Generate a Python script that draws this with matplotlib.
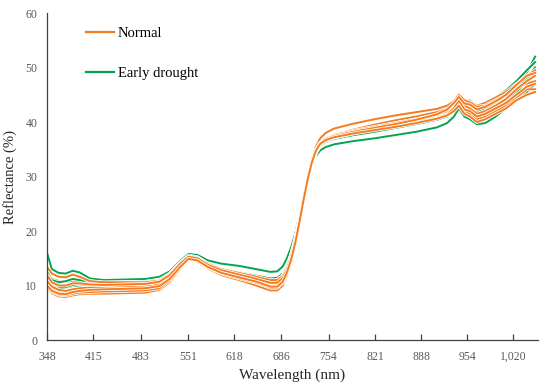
import matplotlib
matplotlib.use("Agg")
import matplotlib.pyplot as plt
import matplotlib.patheffects as pe
from matplotlib.lines import Line2D

# wavelength sampling (nm)
wavelength = [348, 355, 365, 375, 385, 395, 410, 430, 460, 490,
              510, 525, 540, 552, 565, 580, 600, 625, 650, 670,
              680, 688, 694, 700, 706, 712, 718, 724, 730, 736,
              742, 750, 762, 790, 820, 850, 880, 910, 925, 935,
              942, 950, 958, 968, 980, 995, 1010, 1025, 1040, 1052]

# Early drought spectra (%)
drought_1 = [16.0, 13.0, 12.3, 12.2, 12.7, 12.4, 11.3, 11.0, 11.1, 11.2,
             11.6, 12.6, 14.5, 15.8, 15.6, 14.6, 14.0, 13.6, 13.0, 12.5,
             12.6, 13.5, 15.0, 17.0, 19.5, 22.8, 26.5, 29.8, 32.2, 33.8,
             34.8, 35.4, 35.9, 36.5, 37.0, 37.6, 38.2, 39.0, 39.8, 41.0,
             42.5, 41.0, 40.5, 39.6, 39.8, 41.0, 42.5, 44.0, 45.5, 47.0]
drought_2 = [12.5, 11.2, 10.8, 10.7, 10.9, 10.7, 10.4, 10.4, 10.5, 10.6,
             10.9, 12.0, 14.0, 15.3, 15.0, 13.9, 13.0, 12.4, 11.8, 11.3,
             11.4, 12.2, 13.6, 15.6, 18.5, 22.0, 26.0, 29.5, 32.5, 34.6,
             35.8, 36.6, 37.2, 37.9, 38.6, 39.3, 40.1, 41.0, 41.8, 43.0,
             44.8, 43.5, 44.0, 43.0, 43.2, 44.0, 45.2, 47.0, 49.0, 52.0]
drought_3 = [11.0, 10.0, 9.6, 9.6, 9.9, 10.0, 10.1, 10.2, 10.3, 10.4,
             10.7, 11.8, 13.8, 15.1, 14.8, 13.6, 12.5, 11.9, 11.2, 10.5,
             10.6, 11.4, 13.0, 15.2, 18.0, 21.6, 25.6, 29.2, 32.3, 34.4,
             35.6, 36.3, 36.9, 37.6, 38.2, 38.9, 39.6, 40.4, 41.0, 42.5,
             44.0, 42.5, 41.8, 40.2, 40.8, 42.0, 43.5, 45.5, 47.5, 49.5]
drought_4 = [12.0, 11.0, 10.6, 10.8, 11.2, 11.0, 10.6, 10.5, 10.6, 10.7,
             11.0, 12.2, 14.2, 15.5, 15.2, 14.0, 12.9, 12.2, 11.5, 10.9,
             11.0, 11.8, 13.3, 15.4, 18.3, 21.8, 25.8, 29.4, 32.4, 34.5,
             35.7, 36.5, 37.1, 37.9, 38.7, 39.5, 40.3, 41.2, 42.0, 43.3,
             44.2, 43.0, 43.5, 42.8, 43.3, 44.5, 45.8, 47.5, 49.5, 51.0]
drought_5 = [10.5, 9.8, 9.5, 9.7, 10.1, 10.3, 10.4, 10.5, 10.5, 10.5,
             10.8, 12.0, 14.0, 15.2, 14.9, 13.7, 12.6, 11.8, 11.0, 10.2,
             10.2, 11.0, 12.6, 14.8, 17.6, 21.2, 25.3, 29.0, 32.2, 34.4,
             35.7, 36.5, 37.2, 38.0, 38.8, 39.6, 40.4, 41.3, 42.2, 43.5,
             44.5, 43.2, 43.0, 42.0, 42.5, 43.6, 44.8, 46.5, 48.0, 50.0]

# Normal spectra (%)
normal_1 = [13.4, 12.2, 11.6, 11.5, 12.0, 11.6, 10.8, 10.6, 10.6, 10.6,
            10.9, 12.0, 14.0, 15.3, 15.1, 14.0, 13.0, 12.3, 11.6, 11.0,
            11.0, 11.8, 13.4, 15.6, 18.6, 22.3, 26.4, 30.0, 33.0, 35.0,
            36.2, 37.0, 37.7, 38.6, 39.5, 40.3, 41.0, 41.8, 42.5, 43.8,
            45.0, 43.5, 43.8, 43.0, 43.5, 44.5, 45.5, 47.0, 48.5, 49.5]
normal_2 = [10.2, 9.4, 8.8, 8.7, 9.0, 9.3, 9.5, 9.7, 9.8, 9.9,
            10.3, 11.5, 13.6, 15.0, 14.8, 13.6, 12.5, 11.8, 11.0, 10.3,
            10.3, 11.2, 12.9, 15.2, 18.2, 22.0, 26.2, 30.0, 33.2, 35.5,
            37.0, 38.0, 38.8, 39.7, 40.5, 41.2, 41.8, 42.4, 43.0, 43.8,
            45.0, 44.0, 43.6, 42.8, 43.0, 44.0, 45.0, 46.5, 47.0, 47.5]
normal_3 = [9.5, 8.6, 8.0, 7.9, 8.2, 8.4, 8.5, 8.5, 8.6, 8.7,
            9.2, 10.6, 13.0, 14.7, 14.4, 13.1, 11.9, 11.0, 10.0, 9.1,
            9.1, 10.0, 11.8, 14.2, 17.4, 21.3, 25.5, 29.3, 32.4, 34.6,
            36.0, 36.9, 37.5, 38.3, 39.0, 39.6, 40.2, 40.8, 41.3, 42.3,
            43.5, 42.0, 41.5, 40.5, 41.0, 42.0, 43.0, 44.5, 46.0, 46.0]
normal_4 = [10.8, 9.8, 9.2, 9.0, 9.3, 9.5, 9.6, 9.6, 9.7, 9.8,
            10.2, 11.5, 13.6, 15.0, 14.7, 13.5, 12.4, 11.6, 10.8, 10.0,
            10.0, 10.9, 12.6, 14.9, 17.9, 21.7, 25.8, 29.6, 32.7, 34.9,
            36.2, 37.0, 37.6, 38.4, 39.1, 39.8, 40.5, 41.3, 42.0, 43.2,
            44.5, 43.0, 42.5, 41.5, 42.0, 43.0, 44.2, 46.0, 47.5, 48.5]
normal_5 = [9.8, 8.9, 8.3, 8.2, 8.5, 8.7, 8.8, 8.9, 9.0, 9.1,
            9.5, 10.9, 13.2, 14.8, 14.6, 13.3, 12.2, 11.3, 10.5, 9.6,
            9.6, 10.5, 12.3, 14.6, 17.7, 21.5, 25.6, 29.4, 32.5, 34.7,
            36.0, 36.8, 37.4, 38.1, 38.8, 39.4, 40.0, 40.7, 41.4, 42.5,
            44.0, 42.3, 42.0, 41.0, 41.5, 42.5, 43.5, 45.0, 46.5, 47.0]
normal_6 = [11.8, 10.6, 10.0, 10.0, 10.4, 10.4, 10.2, 10.1, 10.2, 10.3,
            10.7, 11.9, 14.0, 15.3, 15.0, 13.8, 12.8, 12.0, 11.2, 10.5,
            10.5, 11.4, 13.0, 15.3, 18.3, 22.0, 26.1, 29.8, 32.8, 34.9,
            36.1, 36.9, 37.4, 38.2, 38.9, 39.6, 40.4, 41.4, 42.3, 43.5,
            44.6, 43.4, 43.2, 42.3, 42.8, 43.8, 45.0, 46.8, 48.5, 49.0]
normal_7 = [10.0, 9.0, 8.5, 8.4, 8.8, 9.0, 9.2, 9.3, 9.4, 9.5,
            9.9, 11.2, 13.4, 14.9, 14.6, 13.4, 12.3, 11.5, 10.7, 9.8,
            9.8, 10.7, 12.4, 14.7, 17.8, 21.6, 25.7, 29.5, 32.6, 34.8,
            36.0, 36.7, 37.2, 37.9, 38.5, 39.1, 39.8, 40.6, 41.2, 42.0,
            43.0, 41.5, 41.0, 40.0, 40.5, 41.5, 42.5, 44.0, 45.0, 45.5]

drought_series = [drought_1, drought_2, drought_3, drought_4, drought_5]
normal_series = [normal_1, normal_2, normal_3, normal_4, normal_5, normal_6, normal_7]

x_ticks = [348, 415, 483, 551, 618, 686, 754, 821, 888, 954, 1020]
x_ticklabels = ["348", "415", "483", "551", "618", "686", "754", "821", "888", "954", "1,020"]
y_ticks = [0, 10, 20, 30, 40, 50, 60]

orange = '#F47B20'
green = '#00A651'
edge = [pe.Stroke(linewidth=2.6, foreground='white'), pe.Normal()]

plt.rcParams['font.family'] = ['Liberation Serif', 'DejaVu Serif']

fig = plt.figure(figsize=(5.5, 3.87), dpi=100)
ax = fig.add_axes([0.0855, 0.1214, 0.8925, 0.845])

for s in drought_series:
    ax.plot(wavelength, s, color=green, lw=1.4, path_effects=edge, solid_joinstyle='round')
for s in normal_series:
    ax.plot(wavelength, s, color=orange, lw=1.4, path_effects=edge, solid_joinstyle='round')

ax.set_xlim(348, 1056)
ax.set_ylim(0, 60)
ax.set_xticks(x_ticks)
ax.set_xticklabels(x_ticklabels)
ax.set_yticks(y_ticks)

for side in ['top', 'right']:
    ax.spines[side].set_visible(False)
for side in ['left', 'bottom']:
    ax.spines[side].set_color('#404040')
    ax.spines[side].set_linewidth(0.9)

ax.tick_params(axis='x', direction='in', length=4, width=0.9, color='#404040',
               labelsize=8.5, labelcolor='#595959', pad=8)
ax.tick_params(axis='y', length=0, labelsize=8.5, labelcolor='#595959', pad=7)

ax.set_xlabel('Wavelength (nm)', fontsize=11, color='#262626', labelpad=4)
ax.set_ylabel('Reflectance (%)', fontsize=10.5, color='#262626', labelpad=6)

handles = [Line2D([], [], color=orange, lw=1.6),
           Line2D([], [], color=green, lw=1.6)]
ax.legend(handles, ['Normal', 'Early drought'], loc='upper left',
          bbox_to_anchor=(0.053, 0.997), frameon=False, fontsize=10.5,
          labelspacing=1.8, handlelength=1.9, handletextpad=0.25)

fig.savefig('out.png', dpi=100, facecolor='white')
